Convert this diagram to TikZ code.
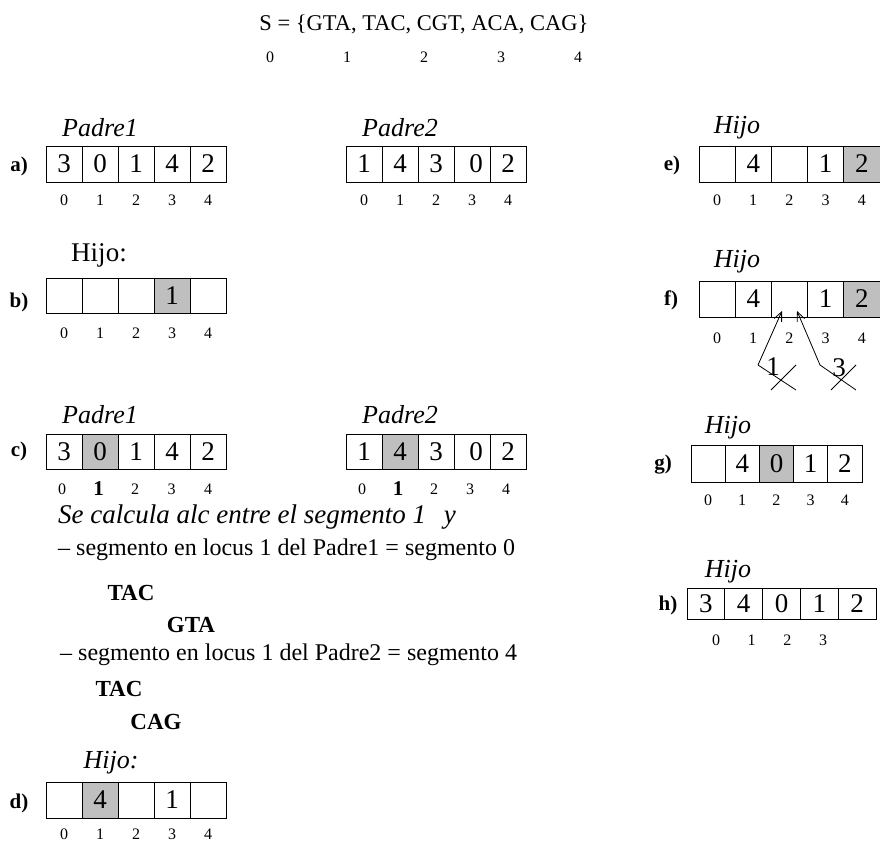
\documentclass[tikz,border=0pt]{standalone}
\usepackage{fontspec}
\setmainfont{Liberation Serif}
\usetikzlibrary{arrows.meta}
\newcommand{\tam}[1]{\fontsize{#1}{#1}\selectfont}
\tikzset{celda/.style={draw,line width=1pt,inner sep=0,font=\tam{27}},
 indice/.style={inner sep=0,font=\tam{16}},
 etiq/.style={inner sep=0,font=\tam{21}\bfseries},
 titulo/.style={inner sep=0,font=\tam{26}\itshape},
 linea/.style={anchor=west,inner sep=0,font=\tam{24}},
 adn/.style={inner sep=0,font=\tam{23}\bfseries},
 flecha/.style={line width=.8pt,-{Straight Barb[length=9pt,width=8pt]}}}
\newcommand{\Arreglo}[6]{\foreach \v/\f [count=\i from 0] in {#6}{\node[celda,minimum width=#4pt,minimum height=#5pt,fill=\f](#1\i)at({#2+(\i+.5)*#4},{#3+#5/2}){\v};}}
\newcommand{\Indices}[5]{\foreach \t [count=\i from 0] in {#5}{\node[indice](#1\i)at({#2+\i*#3},#4){\t};}}
\newcommand{\uno}{{\tam{21}\bfseries 1}}
\begin{document}
\begin{tikzpicture}[x=1pt,y=-1pt]
\useasboundingbox(0,0)rectangle(880,843);
\node[inner sep=0,font=\tam{22.5}](S)at(424,24){S = \{GTA, TAC, CGT, ACA, CAG\}};
\Indices{s-}{270}{77}{57}{0,1,2,3,4}
\node[etiq](la)at(19,166){a)};
\node[titulo](ta1)at(100,128){Padre1};
\Arreglo{a1-}{46}{146}{36}{36}{3/white,0/white,1/white,4/white,2/white}
\Indices{ia1-}{64}{36}{200}{0,1,2,3,4}
\node[titulo](ta2)at(400,128){Padre2};
\Arreglo{a2-}{346}{146}{36}{36}{1/white,4/white,3/white,\hspace*{8pt}0/white,2/white}
\Indices{ia2-}{364}{36}{200}{0,1,2,3,4}
\node[etiq](le)at(672,165){e)};
\node[titulo](te)at(737,128){Hijo};
\Arreglo{e-}{699}{146}{36.2}{36}{{}/white,4/white,{}/white,1/white,2/black!25}
\Indices{ie-}{717}{36.2}{200}{0,1,2,3,4}
\node[etiq](lb)at(19,302){b)};
\node[inner sep=0,font=\tam{27}](tb)at(99,255){Hijo:};
\Arreglo{b-}{46}{278}{36}{35}{{}/white,{}/white,{}/white,1/black!25,{}/white}
\Indices{ib-}{64}{36}{333}{0,1,2,3,4}
\node[etiq](lf)at(671,300){f)};
\node[titulo](tf)at(737,262){Hijo};
\Arreglo{f-}{699}{281}{36.2}{36}{{}/white,4/white,{}/white,1/white,2/black!25}
\Indices{if-}{717}{36.2}{338}{0,1,2,3,4}
\coordinate(q1)at(758,365);\coordinate(p1)at(782,311);\coordinate(q3)at(820,365);\coordinate(p3)at(797,311);
\draw[flecha](q1)--(p1);\draw[flecha](q3)--(p3);
\node[inner sep=0,font=\tam{27}](n1)at(773,367){1};\node[inner sep=0,font=\tam{27}](n3)at(839,368){3};
\draw[line width=.8pt](q1)--(796,390)(771,390)--(796,365);
\draw[line width=.8pt](q3)--(856,390)(831,390)--(856,365);
\node[etiq](lc)at(19,451){c)};
\node[titulo](tc1)at(100,415){Padre1};
\Arreglo{c1-}{46}{434}{36}{35}{3/white,0/black!25,1/white,4/white,2/white}
\Indices{ic1-}{62}{36.5}{489}{0,\uno,2,3,4}
\node[titulo](tc2)at(400,415){Padre2};
\Arreglo{c2-}{346}{434}{36}{35}{1/white,4/black!25,3/white,\hspace*{8pt}0/white,2/white}
\Indices{ic2-}{362}{36}{489}{0,\uno,2,3,4}
\node[anchor=west,inner sep=0,font=\tam{27}\itshape](calc)at(58,517){Se calcula alc entre el segmento 1\hspace{11pt} y};
\node[linea](seg1)at(58,550){-- segmento en locus 1 del Padre1 = segmento 0};
\node[adn](tac1)at(131,593){TAC};\node[adn](gta)at(191,625){GTA};
\node[linea](seg2)at(60,655){-- segmento en locus 1 del Padre2 = segmento 4};
\node[adn](tac2)at(119,689){TAC};\node[adn](cag)at(156,722){CAG};
\node[etiq](ld)at(19,803){d)};
\node[titulo](td)at(111,763){Hijo:};
\Arreglo{d-}{46}{782}{36}{36}{{}/white,4/black!25,{}/white,1/white,{}/white}
\Indices{id-}{64}{36}{834}{0,1,2,3,4}
\node[etiq](lg)at(663,465){g)};
\node[titulo](tg)at(728,428){Hijo};
\Arreglo{g-}{691}{445}{34.2}{37}{{}/white,4/white,0/black!25,1/white,2/white}
\Indices{ig-}{708}{34.2}{500}{0,1,2,3,4}
\node[etiq](lh)at(668,605){h)};
\node[titulo](th)at(728,572){Hijo};
\Arreglo{h-}{687}{588}{37.8}{31}{3/white,4/white,0/white,1/white,2/white}
\Indices{ih-}{716}{35.7}{640}{0,1,2,3}
\end{tikzpicture}
\end{document}
